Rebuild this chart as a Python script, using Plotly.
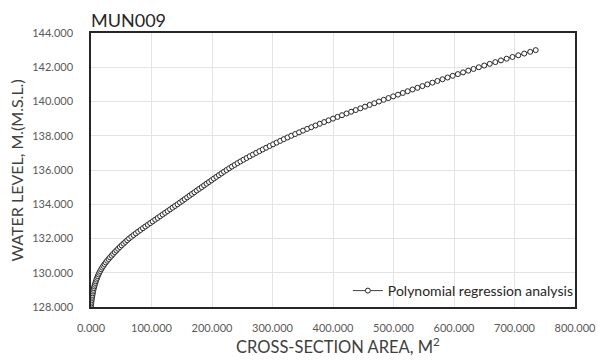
import plotly.graph_objects as go

# Stage-area curve for station MUN009 (water level step 0.1 m)
water_level = [
    128.0,
    128.1, 128.2, 128.3, 128.4, 128.5, 128.6, 128.7, 128.8, 128.9, 129.0,
    129.1, 129.2, 129.3, 129.4, 129.5, 129.6, 129.7, 129.8, 129.9, 130.0,
    130.1, 130.2, 130.3, 130.4, 130.5, 130.6, 130.7, 130.8, 130.9, 131.0,
    131.1, 131.2, 131.3, 131.4, 131.5, 131.6, 131.7, 131.8, 131.9, 132.0,
    132.1, 132.2, 132.3, 132.4, 132.5, 132.6, 132.7, 132.8, 132.9, 133.0,
    133.1, 133.2, 133.3, 133.4, 133.5, 133.6, 133.7, 133.8, 133.9, 134.0,
    134.1, 134.2, 134.3, 134.4, 134.5, 134.6, 134.7, 134.8, 134.9, 135.0,
    135.1, 135.2, 135.3, 135.4, 135.5, 135.6, 135.7, 135.8, 135.9, 136.0,
    136.1, 136.2, 136.3, 136.4, 136.5, 136.6, 136.7, 136.8, 136.9, 137.0,
    137.1, 137.2, 137.3, 137.4, 137.5, 137.6, 137.7, 137.8, 137.9, 138.0,
    138.1, 138.2, 138.3, 138.4, 138.5, 138.6, 138.7, 138.8, 138.9, 139.0,
    139.1, 139.2, 139.3, 139.4, 139.5, 139.6, 139.7, 139.8, 139.9, 140.0,
    140.1, 140.2, 140.3, 140.4, 140.5, 140.6, 140.7, 140.8, 140.9, 141.0,
    141.1, 141.2, 141.3, 141.4, 141.5, 141.6, 141.7, 141.8, 141.9, 142.0,
    142.1, 142.2, 142.3, 142.4, 142.5, 142.6, 142.7, 142.8, 142.9, 143.0,
]

cross_section_area = [
    0.0,
    0.1, 0.3, 0.6, 1.0, 1.4, 1.9, 2.4, 2.9, 3.4, 4.0,
    4.7, 5.45, 6.25, 7.1, 8.05, 9.05, 10.1, 11.2, 12.4, 13.7,
    15.2, 16.8, 18.5, 20.35, 22.35, 24.45, 26.65, 29.0, 31.45, 34.0,
    36.6, 39.25, 41.95, 44.75, 47.65, 50.6, 53.6, 56.7, 59.85, 63.0,
    66.6, 70.3, 74.1, 77.95, 81.85, 85.8, 89.8, 93.85, 97.9, 102.0,
    106.1, 110.2, 114.3, 118.4, 122.5, 126.6, 130.7, 134.8, 138.9, 143.0,
    147.0, 151.0, 154.9, 158.9, 162.9, 166.9, 170.9, 174.9, 178.9, 183.0,
    187.0, 191.0, 195.0, 199.05, 203.15, 207.25, 211.4, 215.6, 219.8, 224.0,
    228.4, 232.9, 237.5, 242.2, 247.0, 252.0, 257.1, 262.3, 267.6, 273.0,
    278.4, 283.9, 289.5, 295.2, 301.0, 306.8, 312.7, 318.7, 324.8, 331.0,
    337.4, 343.9, 350.5, 357.2, 364.1, 371.1, 378.2, 385.4, 392.7, 400.0,
    407.4, 414.9, 422.4, 430.0, 437.6, 445.2, 452.9, 460.6, 468.3, 476.0,
    483.8, 491.6, 499.5, 507.4, 515.4, 523.4, 531.5, 539.6, 547.8, 556.0,
    564.3, 572.6, 581.0, 589.4, 597.9, 606.4, 615.0, 623.6, 632.3, 641.0,
    650.0, 659.1, 668.3, 677.6, 687.0, 696.6, 706.3, 716.1, 726.0, 735.0,
]

x_ticks = [0, 100, 200, 300, 400, 500, 600, 700, 800]
y_ticks = [128, 130, 132, 134, 136, 138, 140, 142, 144]

FONT = "Lato"

fig = go.Figure()
fig.add_trace(go.Scatter(
    x=cross_section_area,
    y=water_level,
    mode="lines+markers",
    name="Polynomial regression analysis",
    line=dict(color="#404040", width=1),
    marker=dict(symbol="circle", size=5, color="white",
                line=dict(color="#262626", width=1)),
))

axis_common = dict(
    showline=True, mirror=True, linecolor="#262626", linewidth=1.5,
    showgrid=True, gridcolor="#e3e3e3", gridwidth=1,
    zeroline=False, ticks="",
    tickfont=dict(family=FONT, size=11, color="#595959"),
    tickformat=".3f",
)

fig.update_xaxes(range=[0, 800], tickvals=x_ticks, ticklabelstandoff=10,
                 **axis_common)
fig.update_yaxes(range=[128, 144], tickvals=y_ticks, ticklabelstandoff=14,
                 **axis_common)

fig.update_layout(
    width=608, height=362,
    margin=dict(l=91, r=23, t=33, b=55),
    paper_bgcolor="white", plot_bgcolor="white",
    font=dict(family=FONT, color="#404040"),
    showlegend=True,
    legend=dict(
        x=1.008, y=0.0, xanchor="right", yanchor="bottom",
        bgcolor="rgba(0,0,0,0)", borderwidth=0,
        font=dict(family=FONT, size=14, color="#262626"),
        itemwidth=30,
    ),
    annotations=[
        dict(text="MUN009", xref="paper", yref="paper", x=-0.004, y=1.047,
             xanchor="left", yanchor="middle", showarrow=False,
             font=dict(family=FONT, size=18, color="#262626")),
        dict(text="WATER LEVEL, M.(M.S.L.)", xref="paper", yref="paper",
             x=-0.154, y=0.5, xanchor="center", yanchor="middle",
             textangle=-90, showarrow=False,
             font=dict(family=FONT, size=16, color="#404040")),
        dict(text="CROSS-SECTION AREA, M<sup>2</sup>", xref="paper",
             yref="paper", x=0.51, y=-0.142, xanchor="center",
             yanchor="middle", showarrow=False,
             font=dict(family=FONT, size=16.5, color="#404040")),
    ],
)

fig.write_html("out.html")
